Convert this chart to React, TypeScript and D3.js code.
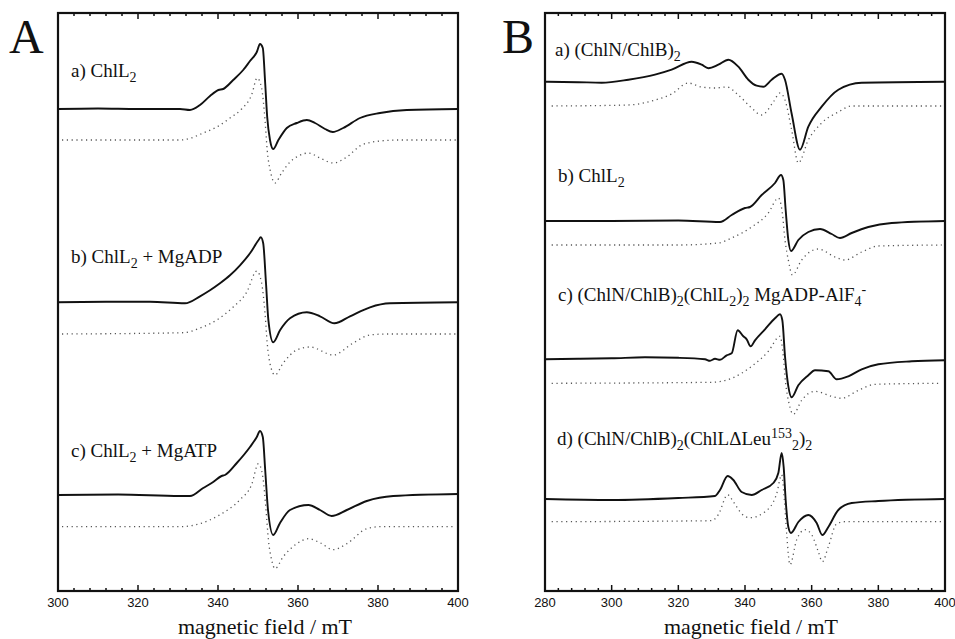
import React from "react";
import * as d3 from "d3";

type Pt = [number, number];
type Seg = [string, "n" | "sub" | "sup"];

// ---------- Panel A data (field mT, intensity a.u.) ----------
const A_TICKS = [300, 320, 340, 360, 380, 400];
const A_OFFSETS = [482, 451, 288.7, 257, 96, 64.3]; // a exp, a sim, b exp, b sim, c exp, c sim

const A_a_exp: Pt[] = [[300,0],[310,0.5],[320,0],[330.5,0],[333,-1],[335.5,4],[338,13],[340.1,19],[341.3,20],[343.8,29],[346.3,39],[348,48],[349.7,57],[350.5,65],[351.2,61],[351.75,29],[352.3,-8],[353,-31],[353.8,-40],[355.1,-31],[357.2,-19],[359.7,-14],[362.2,-11],[364.25,-14],[366.75,-20],[368.7,-23],[371.3,-19],[375.5,-9],[380.5,-4],[387.2,-1],[400,0]];
const A_a_sim: Pt[] = [[301,0],[330.5,0],[333,1.7],[336.3,7],[339.7,13],[343,22],[345.9,31],[348.4,45],[349.8,62],[350.9,52],[351.75,20],[352.3,-10],[353.2,-33],[354.25,-43],[355.9,-33],[358,-22],[360.1,-16],[362.6,-13],[365.5,-18],[368.8,-23],[372.2,-17],[375.9,-5],[380.5,-1],[385,0],[399.5,0]];
const A_b_exp: Pt[] = [[300,0],[312,0.5],[323,0.6],[331.75,-1],[335.5,6],[338,12],[340.5,19],[343,27],[345.5,37],[348,49],[350.1,62],[350.7,65],[351.3,59],[352,19],[352.6,-18],[353.8,-40],[355.5,-28],[358,-16],[362.2,-10],[365.5,-14],[369.1,-21],[373,-14],[378,-5],[383,-1],[400,0]];
const A_b_sim: Pt[] = [[301,0],[331.3,1.3],[335.5,6],[339.7,14],[343.8,27],[347.2,42],[349.7,63],[350.9,51],[351.75,21],[352.3,-9],[353.2,-33],[354.25,-41],[356.3,-29],[359.7,-16],[363,-13],[368.8,-21],[373.8,-9],[378,-1],[382,0],[399.5,0]];
const A_c_exp: Pt[] = [[300,0],[315,0.5],[330.5,-1],[333,-1],[336.3,7],[338.8,13],[340.9,19],[341.75,20],[344.7,32],[348,48],[349.7,58],[350.5,64],[351.2,58],[351.8,25],[352.5,-15],[353.8,-40],[355.5,-28],[358,-15],[362.6,-10],[365.5,-15],[368.4,-21],[372.2,-15],[377.2,-6],[383.8,-1],[400,1]];
const A_c_sim: Pt[] = [[301,0],[330.5,0],[335.5,3],[340.5,12],[345.5,27],[348.4,42],[350.1,63],[351.2,50],[352,17],[352.6,-13],[353.4,-33],[354.25,-42],[356.3,-30],[359.7,-17],[362.6,-12],[365.5,-16],[368.8,-23],[372.2,-17],[377.2,-2],[380.5,0],[399.5,0]];

const A_LABELS: Seg[][] = [
  [["a) ChlL", "n"], ["2", "sub"]],
  [["b) ChlL", "n"], ["2", "sub"], [" + MgADP", "n"]],
  [["c) ChlL", "n"], ["2", "sub"], [" + MgATP", "n"]],
];
const A_LABEL_Y = [77, 263, 457];

// ---------- Panel B data ----------
const B_TICKS = [280, 300, 320, 340, 360, 380, 400];
const B_OFFSETS = [509.3, 485, 370, 346, 231.7, 207.7, 92, 69.3];

const B_a_exp: Pt[] = [[280,0],[290,-0.5],[297,-1],[305,2],[313,7],[318,12],[324,20],[327,17],[329,13.5],[332,17],[335,22],[338,15],[341,2],[343.5,-4],[345.5,-5],[348,2],[351,8],[352,2],[354,-32],[356.5,-68],[359,-45],[363,-25],[368,-8],[375,-1],[400,0]];
const B_a_sim: Pt[] = [[282,0],[305,1],[313,6],[318,12],[323,23],[327,19],[331,18],[334.5,19],[338,11],[342,-2],[345,-9],[348.5,4],[350.5,13],[352,6],[354,-24],[356,-57],[359,-34],[363,-17],[368,-6],[372,0],[399,0]];
const B_b_exp: Pt[] = [[280,0],[300,0],[320,0.5],[332.5,-1],[336,6],[340,13],[341.5,14],[345,26],[349,38],[350.8,46],[351.5,41],[352.2,11],[353,-19],[353.8,-30],[356,-19],[359,-11],[362.5,-8],[366,-13],[368.5,-17],[372,-12],[377,-6],[384,-2],[400,0]];
const B_b_sim: Pt[] = [[282,0],[320,0],[332,2],[336,7],[342,18],[347,32],[350,47],[351.2,32],[352,5],[353,-15],[354.2,-30],[357,-15],[362,-4],[367,-12],[370,-15],[375,-7],[380,-1],[399,0]];
const B_c_exp: Pt[] = [[280,0],[290,0.5],[300,1],[310,2],[320,1.5],[328,0],[329.5,-1.5],[331,0.5],[332.5,-0.5],[334.5,4],[336,6],[337.8,29],[339.5,23],[340.5,20],[341.7,13],[343,19],[346,30],[349,41],[350.5,45],[351.2,39],[352,3],[353,-27],[354,-38],[356,-26],[359,-16],[361,-11],[365,-12],[367.5,-20],[371,-17],[375,-10],[380,-5],[390,-2],[400,-1]];
const B_c_sim: Pt[] = [[282,0],[330,1],[336,5],[342,17],[347,32],[350.5,47],[351.5,27],[352.2,0],[353.2,-20],[354.5,-31],[357,-17],[361,-8],[366,-13],[369,-15],[374,-7],[379,-1],[399,0]];
const B_d_exp: Pt[] = [[280,0],[300,-1],[320,1],[331,3],[332.5,9],[334.8,23],[336.5,19],[339,7],[342,4],[345,9],[348.5,16],[350,26],[351,46],[351.6,32],[352.2,-1],[353,-28],[353.8,-34],[356,-23],[359,-16],[361.5,-24],[363.2,-36],[365,-28],[368,-11],[372,-4],[380,-2],[400,0]];
const B_d_sim: Pt[] = [[282,0],[330,1],[332,7],[334.8,27],[336.5,20],[339,8],[341.5,4],[346,10],[349.5,28],[351,47],[351.8,22],[352.5,-12],[353.5,-43],[355.5,-18],[358,-8],[360,-13],[362,-30],[363.2,-40],[365,-25],[367.5,-2],[370,0],[399,0]];

const B_LABELS: Seg[][] = [
  [["a) (ChlN/ChlB)", "n"], ["2", "sub"]],
  [["b) ChlL", "n"], ["2", "sub"]],
  [["c) (ChlN/ChlB)", "n"], ["2", "sub"], ["(ChlL", "n"], ["2", "sub"], [")", "n"], ["2", "sub"], [" MgADP-AlF", "n"], ["4", "sub"], ["-", "sup"]],
  [["d) (ChlN/ChlB)", "n"], ["2", "sub"], ["(ChlLΔLeu", "n"], ["153", "sup"], ["2", "sub"], [")", "n"], ["2", "sub"]],
];
const B_LABEL_Y = [56, 182, 301, 445];
const B_LABEL_X = [555, 558, 558, 557];

const AXIS_TITLE = "magnetic field / mT";

const SERIF = "Liberation Serif, Times New Roman, Times, serif";
const SANS = "Liberation Sans, Arial, Helvetica, sans-serif";

function Label({ x, y, segs }: { x: number; y: number; segs: Seg[] }) {
  let cur = 0;
  return (
    <text x={x} y={y} style={{ fontFamily: SERIF, fontSize: 19 }} fill="#111">
      {segs.map((s, i) => {
        const target = s[1] === "sub" ? 5 : s[1] === "sup" ? -7 : 0;
        const dy = target - cur;
        cur = target;
        return (
          <tspan key={i} dy={dy} style={{ fontSize: s[1] === "n" ? 19 : 14 }}>
            {s[0]}
          </tspan>
        );
      })}
    </text>
  );
}

function Panel({
  domain, left, right, ticks, traces, offsets, labels, labelX, labelY, letter, letterX, titleX,
}: {
  domain: [number, number]; left: number; right: number; ticks: number[];
  traces: Pt[][]; offsets: number[]; labels: Seg[][]; labelX: number[]; labelY: number[];
  letter: string; letterX: number; titleX: number;
}) {
  const top = 13, bottom = 591;
  const x = d3.scaleLinear().domain(domain).range([left, right]);
  const y = d3.scaleLinear().domain([0, 578]).range([bottom, top]);
  const minor = d3.range(domain[0], domain[1] + 0.001, 4);
  return (
    <g>
      {traces.map((tr, i) => {
        const off = offsets[i];
        const line = d3
          .line<Pt>()
          .x((d) => x(d[0]))
          .y((d) => y(d[1] + off))
          .curve(d3.curveMonotoneX);
        const sim = i % 2 === 1;
        return (
          <path
            key={i}
            d={line(tr) || ""}
            fill="none"
            stroke={sim ? "#555" : "#111"}
            strokeWidth={sim ? 1.3 : 1.9}
            strokeDasharray={sim ? "1.2 3.6" : undefined}
            strokeLinejoin="round"
          />
        );
      })}
      {minor.map((t) => {
        const major = ticks.includes(Math.round(t));
        const len = major ? 6 : 3;
        return (
          <g key={t}>
            <line x1={x(t)} x2={x(t)} y1={bottom} y2={bottom - len} stroke="#111" strokeWidth={1.5} />
            <line x1={x(t)} x2={x(t)} y1={top} y2={top + len} stroke="#111" strokeWidth={1.5} />
          </g>
        );
      })}
      <rect x={left} y={top} width={right - left} height={bottom - top} fill="none" stroke="#111" strokeWidth={2.2} />
      {ticks.map((t) => (
        <text key={t} x={x(t)} y={607} textAnchor="middle" style={{ fontFamily: SANS, fontSize: 13 }} fill="#111">
          {t}
        </text>
      ))}
      <text x={titleX} y={634} textAnchor="middle" style={{ fontFamily: SERIF, fontSize: 22 }} fill="#111">
        {AXIS_TITLE}
      </text>
      <text x={letterX} y={53} style={{ fontFamily: SERIF, fontSize: 48 }} fill="#111">
        {letter}
      </text>
      {labels.map((l, i) => (
        <Label key={i} x={labelX[i]} y={labelY[i]} segs={l} />
      ))}
    </g>
  );
}

export default function App() {
  return (
    <svg
      width={955}
      height={639}
      style={{ position: "absolute", left: 0, top: 0, background: "#fff" }}
    >
      <rect width={955} height={639} fill="#fff" />
      <Panel
        domain={[300, 400]}
        left={58}
        right={458}
        ticks={A_TICKS}
        traces={[A_a_exp, A_a_sim, A_b_exp, A_b_sim, A_c_exp, A_c_sim]}
        offsets={A_OFFSETS}
        labels={A_LABELS}
        labelX={[71, 71, 71]}
        labelY={A_LABEL_Y}
        letter="A"
        letterX={9}
        titleX={265}
      />
      <Panel
        domain={[280, 400]}
        left={545}
        right={945}
        ticks={B_TICKS}
        traces={[B_a_exp, B_a_sim, B_b_exp, B_b_sim, B_c_exp, B_c_sim, B_d_exp, B_d_sim]}
        offsets={B_OFFSETS}
        labels={B_LABELS}
        labelX={B_LABEL_X}
        labelY={B_LABEL_Y}
        letter="B"
        letterX={502}
        titleX={751}
      />
    </svg>
  );
}
